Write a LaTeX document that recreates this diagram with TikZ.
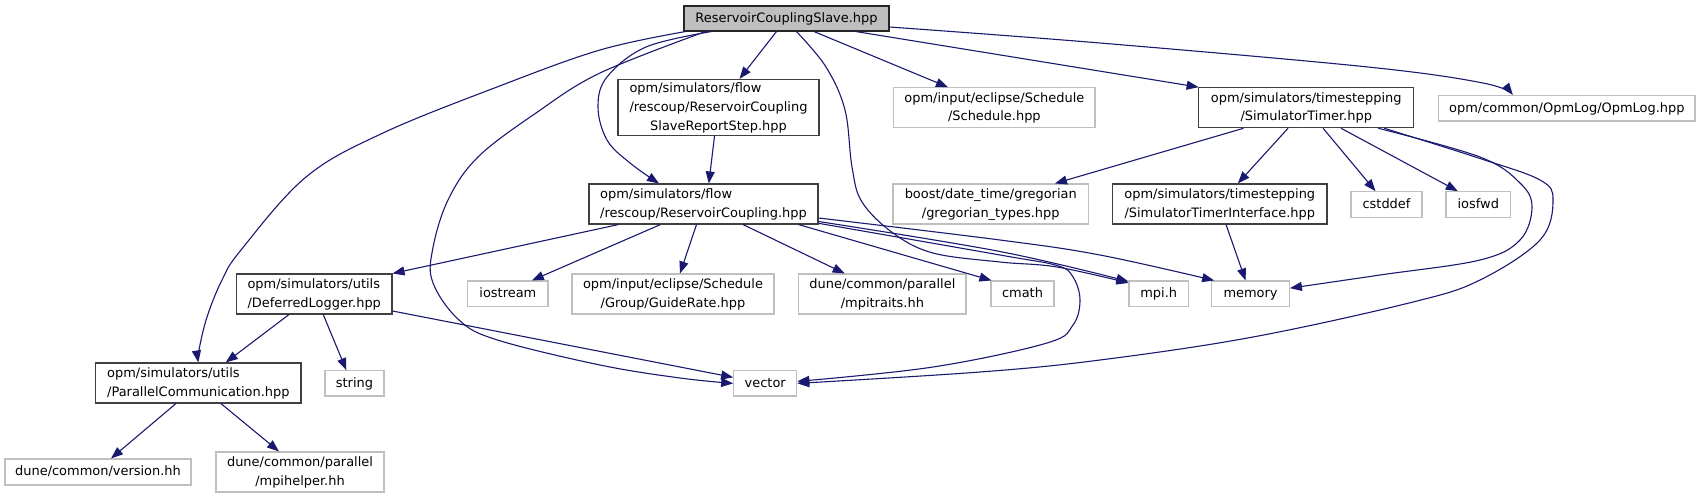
\documentclass[tikz,border=0pt]{standalone}
\usepackage{fontspec}
\setmainfont{DejaVu Sans}
\usetikzlibrary{arrows.meta}
\renewcommand{\arraystretch}{1.25}
\definecolor{edgeblue}{HTML}{191970}
\definecolor{docgray}{HTML}{404040}
\definecolor{undocgray}{HTML}{BFBFBF}
\definecolor{rootgray}{HTML}{BFBFBF}
\newcommand\lns[1]{\begin{tabular}{@{}l@{}}#1\end{tabular}}
\newcommand\lc[1]{\multicolumn{1}{@{}c@{}}{#1}}
\newcommand\bx[7]{\node[#2,minimum width={#5-#3},minimum height={#6-#4}] (#1) at ({(#3+#5)/2},{(#4+#6)/2}) {\lns{#7}};}
\tikzset{
  basebox/.style={draw, rectangle, inner sep=0pt, line width=1.1pt, fill=white, text=black,
    font=\fontsize{12.95pt}{15pt}\selectfont},
  rootn/.style={basebox, draw=black!85, fill=rootgray},
  docn/.style={basebox, draw=docgray},
  undocn/.style={basebox, draw=undocgray},
  conn/.style={draw=edgeblue, line width=1.1pt, -{Triangle[length=12pt,width=9pt]}},
  sm/.style={smooth, tension=0.6}
}
\begin{document}
\begin{tikzpicture}[x=1pt,y=-1pt]
\useasboundingbox (0,0) rectangle (1700,499);
\fill[white] (0,0) rectangle (1700,499);

\bx{slave}{rootn}{684}{6}{889}{31}{ReservoirCouplingSlave.hpp}
\bx{srs}{docn}{618}{80}{819}{135}{opm/simulators/flow\\/rescoup/ReservoirCoupling\\\lc{SlaveReportStep.hpp}}
\bx{sched}{undocn}{893.7}{87.7}{1095}{127.7}{opm/input/eclipse/Schedule\\\lc{/Schedule.hpp}}
\bx{stimer}{docn}{1198.7}{87.7}{1413.8}{127.7}{opm/simulators/timestepping\\\lc{/SimulatorTimer.hpp}}
\bx{opmlog}{undocn}{1438.7}{95.5}{1695}{121}{opm/common/OpmLog/OpmLog.hpp}
\bx{rc}{docn}{589}{184}{818}{224}{opm/simulators/flow\\\lc{/rescoup/ReservoirCoupling.hpp}}
\bx{greg}{undocn}{893}{184}{1088.5}{224}{boost/date\_time/gregorian\\\lc{/gregorian\_types.hpp}}
\bx{stint}{docn}{1112.6}{184}{1327}{224}{opm/simulators/timestepping\\\lc{/SimulatorTimerInterface.hpp}}
\bx{cstddef}{undocn}{1351}{191.7}{1422}{217.3}{cstddef}
\bx{iosfwd}{undocn}{1446}{191.7}{1510.6}{217.3}{iosfwd}
\bx{dl}{docn}{236.5}{274}{392}{314}{opm/simulators/utils\\\lc{/DeferredLogger.hpp}}
\bx{iostream}{undocn}{467.7}{281}{548}{306.7}{iostream}
\bx{guide}{undocn}{572}{274}{774}{314}{opm/input/eclipse/Schedule\\\lc{/Group/GuideRate.hpp}}
\bx{mpitr}{undocn}{798.8}{274}{966}{314}{dune/common/parallel\\\lc{/mpitraits.hh}}
\bx{cmath}{undocn}{991}{281}{1054}{306.7}{cmath}
\bx{mpih}{undocn}{1129}{281}{1188.4}{306.7}{mpi.h}
\bx{memory}{undocn}{1211.7}{281}{1289.4}{306.7}{memory}
\bx{pc}{docn}{95.7}{363}{301}{403}{opm/simulators/utils\\\lc{/ParallelCommunication.hpp}}
\bx{string}{undocn}{325}{370.7}{384}{396}{string}
\bx{vector}{undocn}{733.7}{370.7}{796.8}{396}{vector}
\bx{version}{undocn}{5}{459}{191}{485}{dune/common/version.hh}
\bx{mpihelper}{undocn}{216}{452}{384}{492}{dune/common/parallel\\\lc{/mpihelper.hh}}

% ReservoirCouplingSlave.hpp
\draw[conn] plot[sm] coordinates {([xshift=2pt]slave.south west) (600,50) (497,87) (383,133) (306,177) (241,250) (222,280) (207,317) (199,350) (pc.north)};
\draw[conn] plot[sm] coordinates {([xshift=28pt]slave.south west) (646,47) (607,77) (598,107) (607,140) (630,163) ([xshift=-44.5pt]rc.north)};
\draw[conn] plot[sm] coordinates {([xshift=22pt]slave.south west) (600,73) (536,113) (478,157) (448,200) (432.5,250) (433,283) (459,320) (497.5,340) (600,365) (680,378) (vector.west)};
\draw[conn] ([xshift=-10pt]slave.south) -- ([xshift=21pt]srs.north);
\draw[conn] plot[sm] coordinates {([xshift=10pt]slave.south) (826,67) (845,110) (852,167) (862,202) (893,233) (933,253) (1000,262) (1057,267) ([yshift=-2.5pt]mpih.north west)};
\draw[conn] ([xshift=27.5pt]slave.south) -- ([xshift=-46.4pt]sched.north);
\draw[conn] ([xshift=69.5pt]slave.south) -- ([xshift=0.5pt]stimer.north west);
\draw[conn] plot[sm] coordinates {([yshift=-8.5pt]slave.east) (1100,43) (1368,67) (1483,83) ([xshift=-54pt]opmlog.north)};

% SlaveReportStep
\draw[conn] ([xshift=-4pt]srs.south) -- ([xshift=5.3pt]rc.north);

% ReservoirCoupling.hpp
\draw[conn] ([xshift=30pt]rc.south west) -- (dl.north east);
\draw[conn] ([xshift=72pt]rc.south west) -- ([xshift=24pt]iostream.north);
\draw[conn] ([xshift=-7pt]rc.south) -- ([xshift=7pt]guide.north);
\draw[conn] ([xshift=39.5pt]rc.south) -- ([xshift=-37.7pt]mpitr.north);
\draw[conn] ([xshift=95pt]rc.south) -- ([xshift=1pt]cmath.north west);
\draw[conn] plot[sm] coordinates {([yshift=-14pt]rc.east) (1000,240) (1100,255) ([xshift=3pt]memory.north west)};
\draw[conn] plot[sm] coordinates {([yshift=-17.5pt]rc.east) (1000,251.5) ([yshift=-1pt]mpih.north west)};
\draw[conn] plot[sm] coordinates {([yshift=-19.3pt]rc.east) (1000,255) (1057,265.5) (1073,277) (1080,300) (1073,325) (1047,343) (933,367) ([yshift=2pt]vector.east)};

% SimulatorTimer.hpp
\draw[conn] ([xshift=-62.7pt]stimer.south) -- ([xshift=64.2pt]greg.north);
\draw[conn] ([xshift=-18.2pt]stimer.south) -- ([xshift=18pt]stint.north);
\draw[conn] ([xshift=16.8pt]stimer.south) -- ([xshift=-11pt]cstddef.north);
\draw[conn] ([xshift=34.8pt]stimer.south) -- ([xshift=-20.5pt]iosfwd.north);
\draw[conn] plot[sm] coordinates {([xshift=72pt]stimer.south) (1480,157) (1520,183) (1532,207) (1520,240) (1480,260) (1380,275) ([yshift=5.7pt]memory.east)};
\draw[conn] plot[sm] coordinates {([xshift=78pt]stimer.south) (1480,158.5) (1540,180) (1553,200) (1540,240) (1480,280) (1413,302) (1253,337) (1100,360) (980,372) (vector.east)};

% SimulatorTimerInterface.hpp
\draw[conn] ([xshift=6.2pt]stint.south) -- ([xshift=-5pt]memory.north);

% DeferredLogger.hpp
\draw[conn] ([xshift=-25.3pt]dl.south) -- ([xshift=27.4pt]pc.north);
\draw[conn] ([xshift=9pt]dl.south) -- ([xshift=-8.2pt]string.north);
\draw[conn] ([yshift=-17pt]dl.east) -- ([yshift=6pt]vector.west);

% ParallelCommunication.hpp
\draw[conn] ([xshift=-22.4pt]pc.south) -- ([xshift=13pt]version.north);
\draw[conn] ([xshift=22.6pt]pc.south) -- ([xshift=-21pt]mpihelper.north);
\end{tikzpicture}
\end{document}
